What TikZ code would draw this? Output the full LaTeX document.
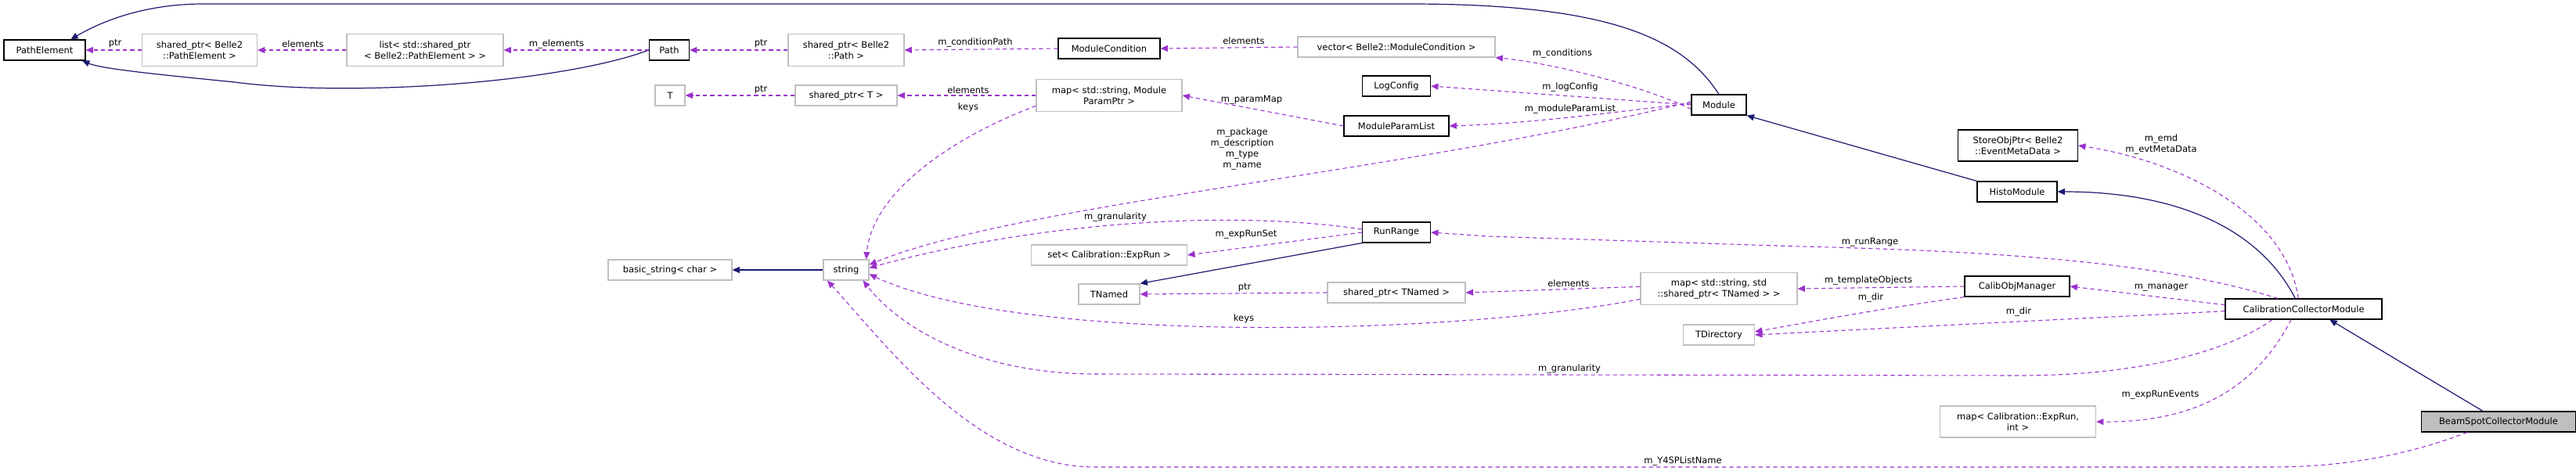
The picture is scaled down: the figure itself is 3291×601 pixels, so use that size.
\documentclass[tikz,border=0pt]{standalone}
\usepackage{fontspec}
\setmainfont{DejaVu Sans}
\usetikzlibrary{arrows.meta}
\definecolor{inh}{HTML}{191970}
\definecolor{use}{HTML}{9A32CD}
\definecolor{gb}{HTML}{BFBFBF}
\begin{document}
\begin{tikzpicture}[x=0.75pt,y=-0.75pt,
  every node/.style={font=\fontsize{8.6}{10.5}\selectfont},
  cls/.style={draw=black,line width=0.9pt,fill=white,inner sep=0pt,align=center,minimum height=19.5pt},
  ext/.style={draw=gb,line width=0.9pt,fill=white,inner sep=0pt,align=center,minimum height=19.5pt},
  mw/.style={minimum width=#1*0.75pt},
  mh/.style={minimum height=#1*0.75pt},
  lbl/.style={inner sep=0pt,align=center},
  ua/.style={draw=use,dashed,dash pattern=on 4pt off 3pt,line width=0.8pt,-{Triangle[length=7pt,width=6pt]}},
  ia/.style={draw=inh,line width=0.9pt,-{Triangle[length=7pt,width=6pt]}}]
\useasboundingbox (0,0) rectangle (3291,601);
% nodes
\node[cls,mw=104] (PE) at (57,64) {PathElement};
\node[ext,mw=147,mh=41] (SPE) at (255,64) {shared\_ptr< Belle2\\::PathElement >};
\node[ext,mw=200,mh=41] (LST) at (543,64) {list< std::shared\_ptr\\< Belle2::PathElement > >};
\node[cls,mw=51] (P) at (855,64) {Path};
\node[ext,mw=38] (T) at (856,122) {T};
\node[ext,mw=148,mh=41] (SPP) at (1081,64) {shared\_ptr< Belle2\\::Path >};
\node[ext,mw=130] (SPT) at (1081,122) {shared\_ptr< T >};
\node[cls,mw=130] (MC) at (1417,62) {ModuleCondition};
\node[ext,mw=252] (VEC) at (1784,60) {vector< Belle2::ModuleCondition >};
\node[ext,mw=186,mh=41] (MAP) at (1417,122) {map< std::string, Module\\ParamPtr >};
\node[cls,mw=87] (LC) at (1784,110) {LogConfig};
\node[cls,mw=134] (MPL) at (1784,161) {ModuleParamList};
\node[cls,mw=70] (MOD) at (2196,134) {Module};
\node[cls,mw=87] (RR) at (1784,297) {RunRange};
\node[ext,mw=199] (SET) at (1417,326) {set< Calibration::ExpRun >};
\node[ext,mw=78] (TN) at (1417,376) {TNamed};
\node[ext,mw=176] (SPTN) at (1784,374) {shared\_ptr< TNamed >};
\node[ext,mw=200,mh=41] (MTN) at (2196,369) {map< std::string, std\\::shared\_ptr< TNamed > >};
\node[ext,mw=91] (TD) at (2196,428) {TDirectory};
\node[ext,mw=58] (STR) at (1081,345) {string};
\node[ext,mw=158] (BS) at (856,345) {basic\_string< char >};
\node[cls,mw=153,mh=40] (SOP) at (2578,186) {StoreObjPtr< Belle2\\::EventMetaData >};
\node[cls,mw=102] (HM) at (2577,245) {HistoModule};
\node[cls,mw=134] (COM) at (2577,366) {CalibObjManager};
\node[cls,mw=200] (CCM) at (2943,395) {CalibrationCollectorModule};
\node[ext,mw=199,mh=40] (MER) at (2578,539) {map< Calibration::ExpRun,\\int >};
\node[cls,mw=197,fill=gb] (BSCM) at (3192,539) {BeamSpotCollectorModule};
% inheritance
\draw[ia] (MOD.north) .. controls (2150,50) and (2060,5) .. (1800,5) -- (260,5) .. controls (180,5) and (125,30) .. ([xshift=25pt]PE.north);
\draw[ia] (P.west) .. controls (720,105) and (450,125) .. (300,105) .. controls (200,95) and (130,88) .. ([xshift=36pt]PE.south);
\draw[ia] (HM.north west) -- (MOD.south east);
\draw[ia] ([xshift=-8pt]CCM.north) .. controls (2880,280) and (2760,245) .. (HM.east);
\draw[ia] ([xshift=-15pt]BSCM.north) -- ([xshift=25pt]CCM.south);
\draw[ia] (RR.south west) -- (TN.north east);
\draw[ia] (STR.west) -- (BS.east);
% usage
\draw[ua] (SPE.west) -- (PE.east);
\draw[ua] (LST.west) -- (SPE.east);
\draw[ua] (P.west) -- (LST.east);
\draw[ua] (SPP.west) -- (P.east);
\draw[ua] (MC.west) -- (SPP.east);
\draw[ua] (VEC.west) -- (MC.east);
\draw[ua] ([yshift=-4pt]MOD.west) .. controls (2100,110) and (1980,80) .. (VEC.south east);
\draw[ua] ([yshift=0pt]MOD.west) -- (LC.east);
\draw[ua] ([yshift=1.5pt]MOD.west) .. controls (2050,145) and (1950,158) .. (MPL.east);
\draw[ua] (MPL.west) -- (MAP.east);
\draw[ua] (MAP.west) -- (SPT.east);
\draw[ua] (SPT.west) -- (T.east);
\draw[ua] ([yshift=-10pt]MAP.west) .. controls (1230,170) and (1115,240) .. ([xshift=-3pt]STR.north east);
\draw[ua] ([yshift=3pt]MOD.west) .. controls (1800,220) and (1300,260) .. ([yshift=5pt]STR.east);
\draw[ua] ([yshift=3pt]RR.west) .. controls (1550,265) and (1300,290) .. ([yshift=2pt]STR.east);
\draw[ua] (RR.west) -- (SET.east);
\draw[ua] ([yshift=-10pt]MTN.west) .. controls (1850,430) and (1300,440) .. ([yshift=-4pt]STR.east);
\draw[ua] (SPTN.west) -- (TN.east);
\draw[ua] ([yshift=2pt]MTN.west) -- (SPTN.east);
\draw[ua] (COM.west) -- (MTN.east);
\draw[ua] (COM.south west) .. controls (2400,395) and (2320,410) .. ([yshift=3pt]TD.east);
\draw[ua] ([yshift=4pt]CCM.west) -- (COM.east);
\draw[ua] ([yshift=-2pt]CCM.west) -- (TD.east);
\draw[ua] ([xshift=-25pt]CCM.north) .. controls (2750,330) and (2500,320) .. (2300,315) -- (1900,302) -- (RR.east);
\draw[ua] ([xshift=-5pt]CCM.north) .. controls (2920,270) and (2780,205) .. (SOP.east);
\draw[ua] ([xshift=-30pt]CCM.south) .. controls (2830,460) and (2700,480) .. (2580,480) -- (1400,478) .. controls (1250,478) and (1150,420) .. ([xshift=-6pt]STR.south east);
\draw[ua] ([xshift=-12pt]CCM.south) .. controls (2880,500) and (2800,540) .. (MER.east);
\draw[ua] ([xshift=-30pt]BSCM.south) .. controls (3080,580) and (3000,597) .. (2900,597) -- (1400,597) .. controls (1250,597) and (1140,450) .. ([xshift=-18pt]STR.south);
% labels
\node[lbl] (l1) at (147,56) {ptr};
\node[lbl] (l2) at (387,56) {elements};
\node[lbl] (l3) at (711,56) {m\_elements};
\node[lbl] (l4) at (972,56) {ptr};
\node[lbl] (l5) at (972,115) {ptr};
\node[lbl] (l6) at (1246,54) {m\_conditionPath};
\node[lbl] (l7) at (1589,52) {elements};
\node[lbl] (l8) at (1996,68) {m\_conditions};
\node[lbl] (l9) at (2006,111) {m\_logConfig};
\node[lbl] (l10) at (2006,139) {m\_moduleParamList};
\node[lbl] (l11) at (1599,128) {m\_paramMap};
\node[lbl] (l12) at (1237,115) {elements};
\node[lbl] (l13) at (1237,137) {keys};
\node[lbl] (l14) at (1587,190) {m\_package\\m\_description\\m\_type\\m\_name};
\node[lbl] (l15) at (1425,277) {m\_granularity};
\node[lbl] (l16) at (1592,300) {m\_expRunSet};
\node[lbl] (l17) at (1590,368) {ptr};
\node[lbl] (l18) at (2004,362) {elements};
\node[lbl] (l19) at (1589,407) {keys};
\node[lbl] (l20) at (2005,471) {m\_granularity};
\node[lbl] (l21) at (2150,589) {m\_Y4SPListName};
\node[lbl] (l22) at (2761,184) {m\_emd\\m\_evtMetaData};
\node[lbl] (l23) at (2389,310) {m\_runRange};
\node[lbl] (l24) at (2387,358) {m\_templateObjects};
\node[lbl] (l25) at (2390,380) {m\_dir};
\node[lbl] (l26) at (2761,368) {m\_manager};
\node[lbl] (l27) at (2579,398) {m\_dir};
\node[lbl] (l28) at (2760,505) {m\_expRunEvents};
\end{tikzpicture}
\end{document}
